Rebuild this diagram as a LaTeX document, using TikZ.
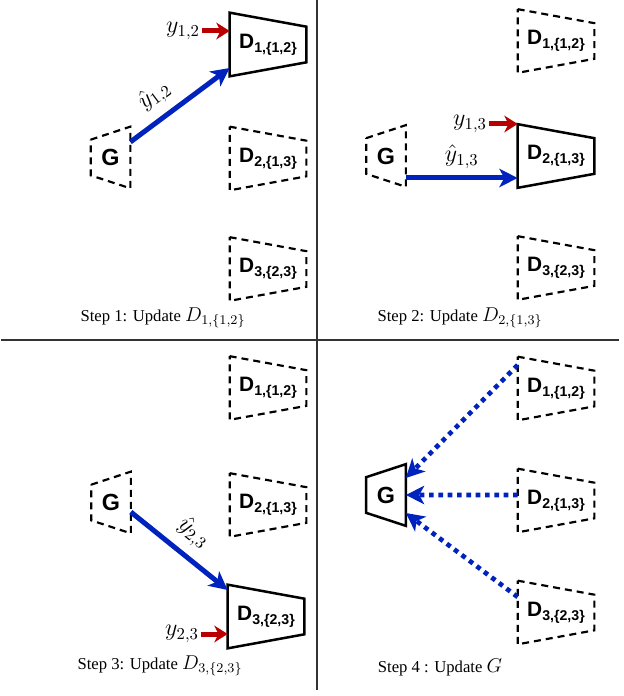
\documentclass[tikz,border=0pt]{standalone}
\usepackage{amsmath}
\usepackage{fontspec}
\setmainfont{Liberation Serif}
\setsansfont{Liberation Sans}
\usetikzlibrary{arrows.meta, positioning, calc}

\definecolor{netblue}{RGB}{0,35,190}
\definecolor{netred}{RGB}{185,0,0}

% outlines of the networks, drawn round their label nodes
\newcommand{\discshape}[2]{\draw[#2] (#1.north west) -- ([yshift=-8.4pt]#1.north east) -- ([yshift=8.4pt]#1.south east) -- (#1.south west) -- cycle;}
\newcommand{\genshape}[2]{\draw[#2] ([yshift=-7.8pt]#1.north west) -- (#1.north east) -- (#1.south east) -- ([yshift=7.8pt]#1.south west) -- cycle;}
\newcommand{\dlabel}[2]{D\raisebox{-0.35ex}{\fontsize{8.5}{10}\selectfont #1,\{#2\}}}

\begin{document}
\begin{tikzpicture}[
    x=0.6pt, y=-0.6pt,
    % network label nodes (shape drawn by the macros)
    disc/.style={rectangle, minimum width=45.6pt, minimum height=37.8pt, inner sep=0pt, font=\sffamily\bfseries\fontsize{12.5}{14}\selectfont},
    gen/.style={rectangle, minimum width=23.4pt, minimum height=36.6pt, inner sep=0pt, font=\sffamily\bfseries\fontsize{14}{16}\selectfont},
    outline/.style={line width=1.5pt, line join=miter},
    ghost/.style={line width=1.3pt, dash pattern=on 4.2pt off 3pt},
    fake/.style={-{Stealth[length=11pt, width=11pt, inset=3pt]}, line width=3pt, color=netblue},
    real/.style={-{Stealth[length=8pt, width=10pt, inset=2.5pt]}, line width=3pt, color=netred},
    back/.style={-{Stealth[length=11pt, width=11pt, inset=3pt]}, line width=2.8pt, color=netblue, dash pattern=on 2.8pt off 2.8pt},
    mathlabel/.style={font=\Large, inner sep=1pt, color=black},
    caption/.style={font=\normalsize},
    divider/.style={line width=0.8pt, color=black!80}
]
\useasboundingbox (0,0) rectangle (623,696);

% =========================================================
% SEPARATORS
% =========================================================
\draw[divider] (317,0) -- (317,690);
\draw[divider] (1,340) -- (619,340);

% =========================================================
% STEP 1: UPDATE D1 (top left)
% =========================================================
\begin{scope}[local bounding box=panelA]
    \node[gen] (g_a) at (110.5,157.5) {G};
    \genshape{g_a}{ghost}

    \node[disc] (d1_a) at (268,44.5) {\dlabel{1}{1,2}};
    \discshape{d1_a}{outline}
    \node[disc] (d2_a) at (268,158.5) {\dlabel{2}{1,3}};
    \discshape{d2_a}{ghost}
    \node[disc] (d3_a) at (268,269) {\dlabel{3}{2,3}};
    \discshape{d3_a}{ghost}

    % generated sample
    \draw[fake] ([yshift=9.3pt]g_a.east) -- node[mathlabel, pos=0.38, sloped, above=4pt] (yhat_a) {$\hat{y}_{1,2}$} ([yshift=-14.1pt]d1_a.west);

    % real sample
    \node[mathlabel] (y_a) at (183,31) {$y_{1,2}$};
    \draw[real] (y_a.east) -- (y_a.east -| d1_a.west);

    \node[caption] (cap_a) at (163,318) {Step 1: Update {\large$D_{1,\{1,2\}}$}};
\end{scope}

% =========================================================
% STEP 2: UPDATE D2 (top right)
% =========================================================
\begin{scope}[local bounding box=panelB]
    \node[gen] (g_b) at (386,156) {G};
    \genshape{g_b}{ghost}

    \node[disc] (d1_b) at (556,41) {\dlabel{1}{1,2}};
    \discshape{d1_b}{ghost}
    \node[disc] (d2_b) at (556,156) {\dlabel{2}{1,3}};
    \discshape{d2_b}{outline}
    \node[disc] (d3_b) at (556,268) {\dlabel{3}{2,3}};
    \discshape{d3_b}{ghost}

    \draw[fake] ([yshift=-13.2pt]g_b.east) -- node[mathlabel, midway, above=3pt] (yhat_b) {$\hat{y}_{1,3}$} ([yshift=-13.2pt]d2_b.west);

    \node[mathlabel] (y_b) at (470,124) {$y_{1,3}$};
    \draw[real] (y_b.east) -- (y_b.east -| d2_b.west);

    \node[caption] (cap_b) at (460,318) {Step 2: Update {\large$D_{2,\{1,3\}}$}};
\end{scope}

% =========================================================
% STEP 3: UPDATE D3 (bottom left)
% =========================================================
\begin{scope}[local bounding box=panelC]
    \node[gen] (g_c) at (111,502.5) {G};
    \genshape{g_c}{ghost}

    \node[disc] (d1_c) at (268,388) {\dlabel{1}{1,2}};
    \discshape{d1_c}{ghost}
    \node[disc] (d2_c) at (268,505) {\dlabel{2}{1,3}};
    \discshape{d2_c}{ghost}
    \node[disc] (d3_c) at (266,616.5) {\dlabel{3}{2,3}};
    \discshape{d3_c}{outline}

    \draw[fake] ([yshift=-5.7pt]g_c.east) -- node[mathlabel, midway, sloped, above=4pt] (yhat_c) {$\hat{y}_{2,3}$} ([yshift=15.9pt]d3_c.west);

    \node[mathlabel] (y_c) at (182,634) {$y_{2,3}$};
    \draw[real] (y_c.east) -- (y_c.east -| d3_c.west);

    \node[caption] (cap_c) at (160,666) {Step 3: Update {\large$D_{3,\{2,3\}}$}};
\end{scope}

% =========================================================
% STEP 4: UPDATE G (bottom right)
% =========================================================
\begin{scope}[local bounding box=panelD]
    \node[gen] (g_d) at (386,495) {G};
    \genshape{g_d}{outline}

    \node[disc] (d1_d) at (556,388.5) {\dlabel{1}{1,2}};
    \discshape{d1_d}{ghost}
    \node[disc] (d2_d) at (556,500.5) {\dlabel{2}{1,3}};
    \discshape{d2_d}{ghost}
    \node[disc] (d3_d) at (556,612.5) {\dlabel{3}{2,3}};
    \discshape{d3_d}{ghost}

    % feedback to the generator
    \draw[back] ([yshift=14.1pt]d1_d.west) -- ([yshift=10.2pt]g_d.east);
    \draw[back] ([yshift=3.3pt]d2_d.west) -- (g_d.east);
    \draw[back] ([yshift=9.3pt]d3_d.west) -- ([yshift=-10.8pt]g_d.east);

    \node[caption] (cap_d) at (440,667) {Step 4 : Update {\large$G$}};
\end{scope}

\end{tikzpicture}
\end{document}
